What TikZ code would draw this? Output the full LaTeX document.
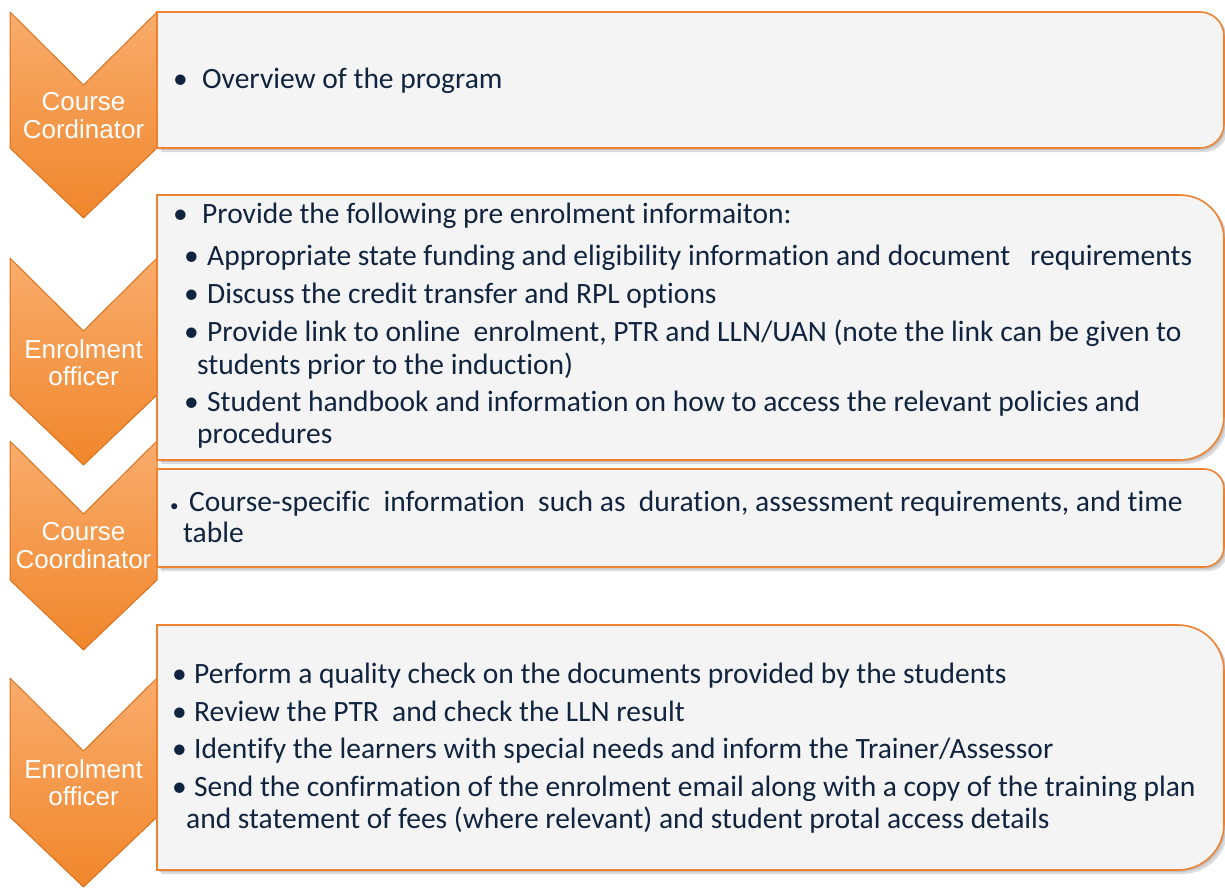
\documentclass[tikz,border=0pt]{standalone}
\usepackage{fontspec}
\setmainfont{Carlito}[Ligatures={NoCommon}]
\newfontfamily\chevfont{Liberation Sans}

\definecolor{navy}{HTML}{10243F}
\definecolor{boxline}{HTML}{EE8232}
\definecolor{boxfill}{HTML}{F4F4F4}
\definecolor{chevlight}{HTML}{F9AC6C}
\definecolor{chevmid}{HTML}{F79B4E}
\definecolor{chevdark}{HTML}{F0862B}
\definecolor{chevedge}{HTML}{D9731F}

\newcommand\bl[1]{\makebox[#1pt][l]{•}}

\begin{document}
\begin{tikzpicture}[x=1pt, y=-1pt,
    chev/.style={top color=chevlight, middle color=chevmid, bottom color=chevdark,
        draw=chevedge, line width=1pt, line join=round},
    panel/.style={fill=boxfill, draw=boxline, line width=1.6pt},
    panelshadow/.style={fill=black!45, opacity=.3},
    lab/.style={font=\chevfont\fontsize{26}{28}\selectfont, text=white,
        anchor=base, inner sep=0pt},
    item/.style={font=\fontsize{29.5}{33}\selectfont, text=navy,
        anchor=base west, inner sep=0pt}]

    \useasboundingbox (0,0) rectangle (1225,889);

    % chevrons
    \foreach \t/\b in {12/148, 258/395, 441/580, 678/817}
        \path[chev] (10,\t) -- (83.5,\t+73) -- (157,\t) -- (157,\b)
            -- (83.5,\b+70) -- (10,\b) -- cycle;

    % panels
    \foreach \t/\b/\r in {12/148/24, 195/460/44, 469/567/20, 625/870/46} {
        \foreach \s in {2,4}
            \path[panelshadow, shift={(\s,\s)}] (157,\t) -- (1224-\r,\t)
                arc[start angle=-90, end angle=0, radius=\r] -- (1224,\b-\r)
                arc[start angle=0, end angle=90, radius=\r] -- (157,\b) -- cycle;
        \path[panel] (157,\t) -- (1224-\r,\t)
            arc[start angle=-90, end angle=0, radius=\r] -- (1224,\b-\r)
            arc[start angle=0, end angle=90, radius=\r] -- (157,\b) -- cycle;
    }

    \node[lab] (c1a) at (83.5,110) {Course};
    \node[lab] (c1b) at (83.5,138) {Cordinator};
    \node[lab] (c2a) at (83.5,358) {Enrolment};
    \node[lab] (c2b) at (83.5,385) {officer};
    \node[lab] (c3a) at (83.5,540) {Course};
    \node[lab] (c3b) at (83.5,568) {Coordinator};
    \node[lab] (c4a) at (83.5,778) {Enrolment};
    \node[lab] (c4b) at (83.5,805) {officer};

    \node[item] (p1) at (173,88) {\bl{29}Overview of the program};

    \node[item] (p2a) at (173,223) {\bl{29}Provide the following pre enrolment informaiton:};
    \node[item] (p2b) at (184,265) {\bl{23}Appropriate state funding and eligibility information and document~~ requirements};
    \node[item] (p2c) at (184,303) {\bl{23}Discuss the credit transfer and RPL options};
    \node[item] (p2d) at (184,341) {\bl{23}Provide link to online~ enrolment, PTR and LLN/UAN (note the link can be given to};
    \node[item] (p2e) at (197,374) {students prior to the induction)};
    \node[item] (p2f) at (184,411) {\bl{23}Student handbook and information on how to access the relevant policies and};
    \node[item] (p2g) at (197,443) {procedures};

    \node[item] (p3a) at (170,511) {\makebox[19pt][l]{\fontsize{17}{17}\selectfont •}Course-specific~ information~ such as~ duration, assessment requirements, and time};
    \node[item] (p3b) at (183,542) {table};

    \node[item] (p4a) at (172,683) {\bl{22}Perform a quality check on the documents provided by the students};
    \node[item] (p4b) at (172,721) {\bl{22}Review the PTR~ and check the LLN result};
    \node[item] (p4c) at (172,758) {\bl{22}Identify the learners with special needs and inform the Trainer/Assessor};
    \node[item] (p4d) at (172,796) {\bl{22}Send the confirmation of the enrolment email along with a copy of the training plan};
    \node[item] (p4e) at (186,828) {and statement of fees (where relevant) and student protal access details};
\end{tikzpicture}
\end{document}
